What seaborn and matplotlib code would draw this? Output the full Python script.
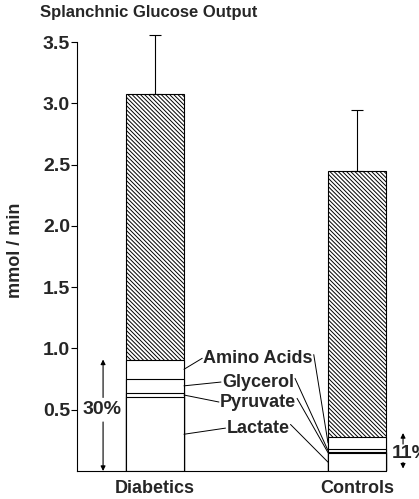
import numpy as np
import pandas as pd
import seaborn as sns
import matplotlib

matplotlib.use('Agg')

import matplotlib.pyplot as plt

# --- data (mmol/min) ---
groups = ['Diabetics', 'Controls']
components = ['Lactate', 'Pyruvate', 'Glycerol', 'Amino Acids']
lactate = [0.60, 0.145]
pyruvate = [0.04, 0.010]
glycerol = [0.11, 0.025]
amino_acids = [0.16, 0.100]
total_output = [3.08, 2.45]
sem = [0.48, 0.50]
yticks = [0.5, 1.0, 1.5, 2.0, 2.5, 3.0, 3.5]

# where the component names sit (y in mmol/min)
label_y = [0.35, 0.563, 0.726, 0.92]

sns.set_theme(style='white')
plt.rcParams['font.family'] = ['Liberation Sans', 'DejaVu Sans']
plt.rcParams['hatch.linewidth'] = 0.7
plt.rcParams['hatch.color'] = 'black'

parts = np.array([lactate, pyruvate, glycerol, amino_acids])
tops = np.cumsum(parts, axis=0)

fig = plt.figure(figsize=(4.19, 4.99), dpi=100)
ax = fig.add_axes([0.1838, 0.0561, 0.8162, 0.884])
W = 0.287
bar_kw = dict(x='group', y='value', order=groups, color='white', edgecolor='black',
              linewidth=0.8, width=W, saturation=1, errorbar=None, ax=ax)

# total output, hatched (non-gluconeogenic part shows above the stack)
sns.barplot(data=pd.DataFrame({'group': groups, 'value': total_output}), **bar_kw)
for p in ax.containers[-1]:
    p.set_hatch('\\' * 8)

# stacked precursors, drawn from the top down in white
for i in range(len(components) - 1, -1, -1):
    sns.barplot(data=pd.DataFrame({'group': groups, 'value': tops[i]}), **bar_kw)

ax.errorbar(x=np.arange(len(groups)), y=total_output, yerr=[np.zeros(len(groups)), sem],
            fmt='none', ecolor='black', elinewidth=0.8, capsize=4, capthick=0.8, clip_on=False)

ax.set_ylim(0, 3.6)
ax.set_xlim(-0.386, 1.307)
for s in ['top', 'right']:
    ax.spines[s].set_visible(False)
for s in ['left', 'bottom']:
    ax.spines[s].set_color('black')
    ax.spines[s].set_linewidth(0.8)
ax.spines['left'].set_bounds(0, 3.5)
ax.spines['bottom'].set_bounds(-0.386, 1.0 + W / 2)

ax.set_yticks(yticks)
ax.set_yticklabels([f'{v:.1f}' for v in yticks], fontsize=14, fontweight='bold')
ax.tick_params(axis='y', left=True, length=4, width=0.8, color='black', pad=1)
ax.tick_params(axis='x', bottom=False, pad=0.5)
ax.set_xticks(range(len(groups)))
ax.set_xticklabels(groups, fontsize=13, fontweight='bold')
ax.set_xlabel('')
ax.set_ylabel('')

fig.text(40 / 419, 1 - 13 / 499, 'Splanchnic Glucose Output', ha='left', va='center',
         fontsize=12, fontweight='bold')
fig.text(15 / 419, 1 - 250 / 499, 'mmol / min', rotation=90, ha='center', va='center',
         fontsize=13, fontweight='bold')

# component labels with leader lines to both bars
fig.canvas.draw()
renderer = fig.canvas.get_renderer()
inv = ax.transData.inverted()
for i, name in enumerate(components):
    t = ax.text(0.51, label_y[i], name, ha='center', va='center', fontsize=13, fontweight='bold')
    bb = t.get_window_extent(renderer)
    x0 = inv.transform((bb.x0 - 1, 0))[0]
    x1 = inv.transform((bb.x1 + 1, 0))[0]
    mid_d = tops[i][0] - parts[i][0] / 2
    mid_c = tops[i][1] - parts[i][1] / 2
    ax.annotate('', xy=(W / 2, mid_d), xytext=(x0, label_y[i]),
                arrowprops=dict(arrowstyle='-', color='black', lw=0.7, shrinkA=0, shrinkB=0))
    ax.annotate('', xy=(1 - W / 2, mid_c), xytext=(x1, label_y[i] + 0.03),
                arrowprops=dict(arrowstyle='-', color='black', lw=0.7, shrinkA=0, shrinkB=0))

# share of gluconeogenic precursors
pct = np.round(tops[-1] / np.array(total_output) * 100).astype(int)
arrow = dict(arrowstyle='-|>', color='black', lw=0.8, mutation_scale=7, shrinkA=0, shrinkB=0)

ax.text(-0.262, 0.5, f'{pct[0]}%', ha='center', va='center', fontsize=14, fontweight='bold')
ax.annotate('', xy=(-0.257, tops[-1][0]), xytext=(-0.257, 0.6), arrowprops=arrow)
ax.annotate('', xy=(-0.257, 0.0), xytext=(-0.257, 0.4), arrowprops=arrow)

ax.text(1.173, 0.14, f'{pct[1]}%', ha='left', va='center', fontsize=14, fontweight='bold',
        clip_on=False)
ax.annotate('', xy=(1.228, tops[-1][1] + 0.03), xytext=(1.228, 0.22), arrowprops=arrow)
ax.annotate('', xy=(1.228, 0.02), xytext=(1.228, 0.07), arrowprops=arrow)

fig.savefig('out.png', dpi=100)
